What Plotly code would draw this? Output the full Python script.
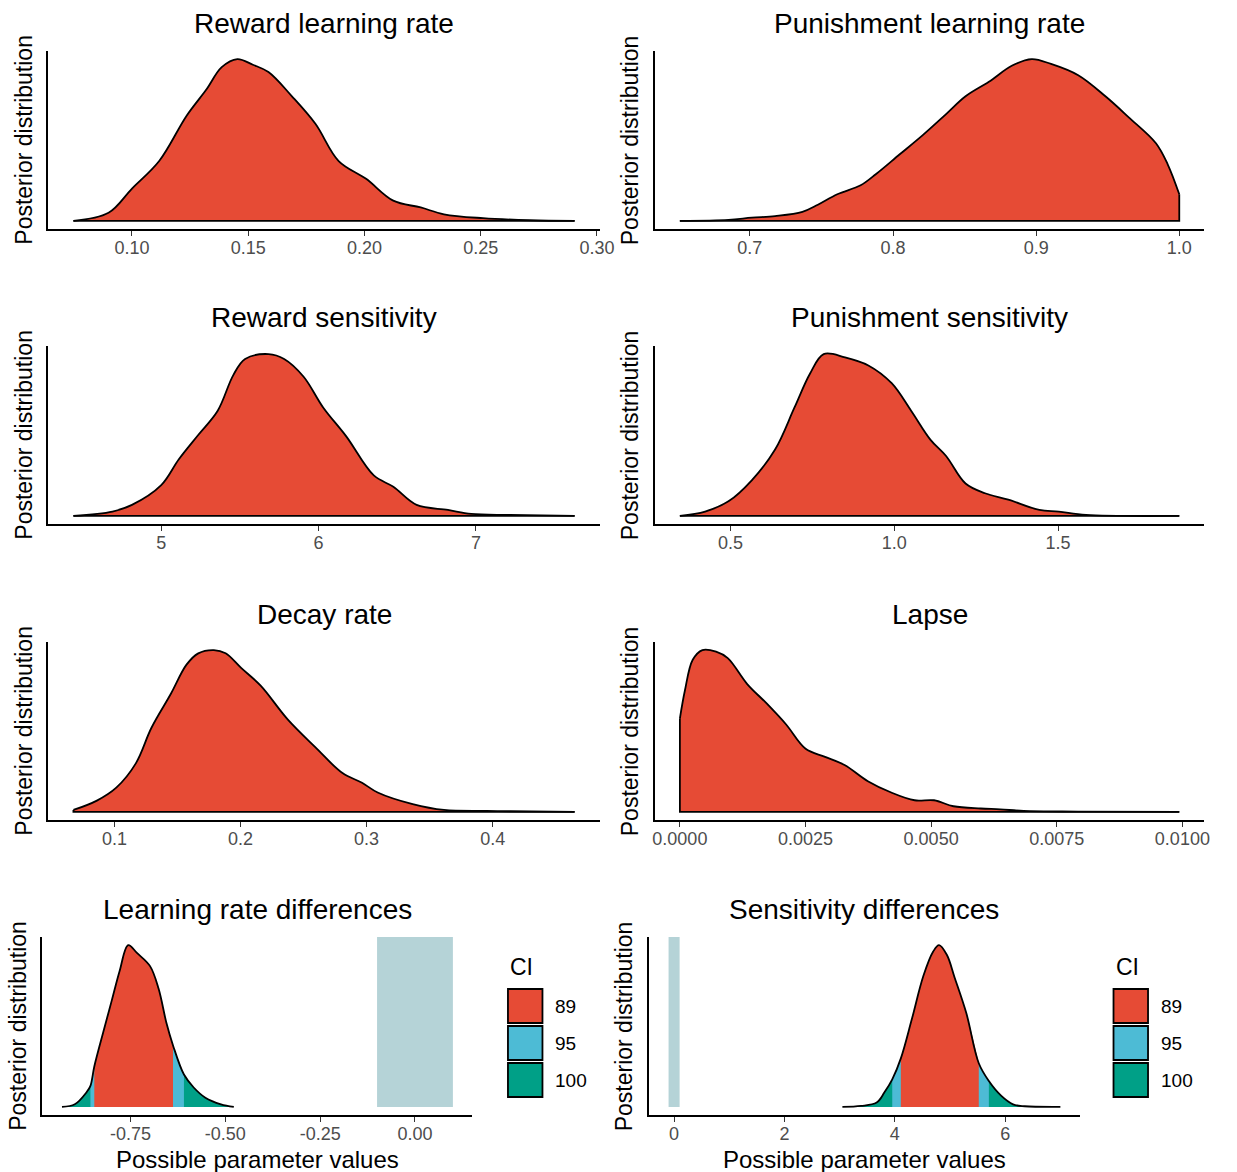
import plotly.graph_objects as go

W, H = 1237, 1172
FONT = "Liberation Sans, Arial, Helvetica, sans-serif"

# ---------------- data ----------------
reward_lr_x = [0.0748, 0.0899, 0.1000, 0.1117, 0.1235, 0.1319, 0.1386, 0.1453, 0.1520, 0.1587,
               0.1688, 0.1789, 0.1889, 0.2007, 0.2124, 0.2242, 0.2342, 0.2510, 0.2711, 0.2904]
reward_lr_y = [0.0, 0.05, 0.20, 0.37, 0.65, 0.81, 0.95, 1.0, 0.965, 0.92,
               0.77, 0.60, 0.37, 0.26, 0.125, 0.083, 0.041, 0.017, 0.004, 0.0]

punish_lr_x = [0.6511, 0.6851, 0.7014, 0.7176, 0.7367, 0.7475, 0.7611, 0.7774, 0.7882, 0.8045,
               0.8208, 0.8371, 0.8507, 0.8670, 0.8833, 0.8969, 0.9104, 0.9294, 0.9484, 0.9647,
               0.9837, 0.9919, 1.0]
punish_lr_y = [0.0, 0.006, 0.02, 0.03, 0.056, 0.10, 0.165, 0.22, 0.29, 0.41,
               0.53, 0.66, 0.77, 0.86, 0.96, 1.0, 0.97, 0.90, 0.77, 0.64,
               0.48, 0.35, 0.165]

reward_sens_x = [4.442, 4.690, 4.814, 5.000, 5.112, 5.235, 5.359, 5.458, 5.533, 5.682,
                 5.781, 5.905, 6.029, 6.177, 6.351, 6.475, 6.623, 6.822, 6.970, 7.218, 7.627]
reward_sens_y = [0.0, 0.027, 0.068, 0.19, 0.35, 0.50, 0.65, 0.87, 0.97, 1.0,
                 0.97, 0.86, 0.67, 0.49, 0.25, 0.18, 0.068, 0.037, 0.012, 0.006, 0.0]

punish_sens_x = [0.3458, 0.4229, 0.4941, 0.5652, 0.6364, 0.6957, 0.7432, 0.7847, 0.8499, 0.9211,
                 0.9923, 1.0516, 1.1109, 1.1584, 1.2177, 1.2770, 1.3482, 1.4431, 1.5024, 1.5854, 1.8701]
punish_sens_y = [0.0, 0.027, 0.09, 0.22, 0.41, 0.67, 0.88, 1.0, 0.98, 0.93,
                 0.82, 0.65, 0.47, 0.37, 0.20, 0.14, 0.10, 0.037, 0.027, 0.006, 0.0]

decay_x = [0.0675, 0.0861, 0.1015, 0.1170, 0.1294, 0.1448, 0.1572, 0.1665, 0.1789, 0.1882,
           0.2005, 0.2160, 0.2376, 0.2593, 0.2809, 0.2964, 0.3088, 0.3366, 0.3614, 0.3954,
           0.4140, 0.4650]
decay_y = [0.012, 0.07, 0.15, 0.30, 0.52, 0.73, 0.91, 0.98, 1.0, 0.98,
           0.89, 0.78, 0.57, 0.40, 0.24, 0.18, 0.12, 0.048, 0.012, 0.006,
           0.004, 0.0]

lapse_x = [0.0, 0.0001, 0.000256, 0.000449, 0.00072, 0.000953, 0.00134, 0.001727, 0.002115, 0.002502,
           0.002889, 0.003277, 0.003741, 0.004206, 0.004671, 0.005058, 0.005445, 0.005988, 0.006375,
           0.00684, 0.007924, 0.009938]
lapse_y = [0.577, 0.75, 0.94, 1.0, 0.99, 0.95, 0.79, 0.67, 0.54, 0.39,
           0.34, 0.29, 0.19, 0.12, 0.072, 0.072, 0.035, 0.021, 0.016,
           0.006, 0.002, 0.0]

lr_diff_x = [-0.9308, -0.8969, -0.8661, -0.8558, -0.8456, -0.8199, -0.7993, -0.7788, -0.7562, -0.7325,
             -0.6986, -0.6760, -0.6555, -0.6380, -0.6092, -0.5835, -0.5527, -0.5116, -0.4777]
lr_diff_y = [0.0, 0.016, 0.09, 0.13, 0.25, 0.48, 0.66, 0.84, 1.0, 0.95,
             0.87, 0.73, 0.52, 0.38, 0.20, 0.12, 0.057, 0.016, 0.0]
lr_ci89 = [-0.8456, -0.6380]
lr_ci95 = [-0.8558, -0.6092]
lr_rope = [-0.1, 0.1]

sens_diff_x = [3.050, 3.389, 3.671, 3.812, 3.953, 4.109, 4.306, 4.518, 4.695, 4.801,
               4.942, 5.083, 5.295, 5.521, 5.704, 5.930, 6.142, 6.354, 7.000]
sens_diff_y = [0.0, 0.006, 0.027, 0.09, 0.17, 0.30, 0.54, 0.81, 0.96, 1.0,
               0.94, 0.80, 0.58, 0.27, 0.16, 0.068, 0.016, 0.004, 0.0]
sens_ci89 = [4.109, 5.521]
sens_ci95 = [3.953, 5.704]
sens_rope = [-0.1, 0.1]

titles = ["Reward learning rate", "Punishment learning rate",
          "Reward sensitivity", "Punishment sensitivity",
          "Decay rate", "Lapse",
          "Learning rate differences", "Sensitivity differences"]

tick_vals = [[0.10, 0.15, 0.20, 0.25, 0.30], [0.7, 0.8, 0.9, 1.0],
             [5, 6, 7], [0.5, 1.0, 1.5],
             [0.1, 0.2, 0.3, 0.4], [0.0, 0.0025, 0.005, 0.0075, 0.01],
             [-0.75, -0.5, -0.25, 0.0], [0, 2, 4, 6]]
tick_text = [["0.10", "0.15", "0.20", "0.25", "0.30"], ["0.7", "0.8", "0.9", "1.0"],
             ["5", "6", "7"], ["0.5", "1.0", "1.5"],
             ["0.1", "0.2", "0.3", "0.4"], ["0.0000", "0.0025", "0.0050", "0.0075", "0.0100"],
             ["-0.75", "-0.50", "-0.25", "0.00"], ["0", "2", "4", "6"]]

ci_levels = ["89", "95", "100"]
ci_colors = ["#E64B35", "#4DBBD5", "#00A087"]
RED = "#E64B35"
ROPE = "#B5D3D7"
y_title = "Posterior distribution"
x_title = "Possible parameter values"

# ---------------- layout geometry (px) ----------------
col_x = [(47, 606), (662, 1219)]
row4_x = [(41, 477), (656, 1093)]
row_y = [(51, 229), (346, 524), (642, 820), (937, 1115)]
SMOOTH = 1.0


def xd(a, b):
    return [a / W, b / W]


def yd(top, bottom):
    return [1 - bottom / H, 1 - top / H]


fig = go.Figure()
annotations = []
shapes = []


def ax_names(k):
    return ("x" if k == 1 else f"x{k}"), ("y" if k == 1 else f"y{k}")


def expand(lo, hi, f=0.05):
    d = hi - lo
    return [lo - f * d, hi + f * d]


def add_density(k, xs, ys):
    xa, ya = ax_names(k)
    fig.add_trace(go.Scatter(x=xs, y=ys, mode="lines", fill="tozeroy", fillcolor=RED,
                             line=dict(color="black", width=1.8, shape="spline", smoothing=SMOOTH),
                             xaxis=xa, yaxis=ya, hoverinfo="skip", showlegend=False))
    fig.add_trace(go.Scatter(x=[xs[-1], xs[-1], xs[0], xs[0]], y=[ys[-1], 0, 0, ys[0]],
                             mode="lines", line=dict(color="black", width=1.8),
                             xaxis=xa, yaxis=ya, hoverinfo="skip", showlegend=False))


def add_ci_density(k, xs, ys, ci89, ci95, rope):
    xa, ya = ax_names(k)
    ytop = 1.05 * max(ys)
    fig.add_trace(go.Scatter(x=[rope[0], rope[1], rope[1], rope[0], rope[0]],
                             y=[0, 0, ytop, ytop, 0], mode="lines", fill="toself",
                             fillcolor=ROPE, line=dict(width=0, color=ROPE),
                             xaxis=xa, yaxis=ya, hoverinfo="skip", showlegend=False))
    segs = [(None, ci_colors[2]), (ci95, ci_colors[1]), (ci89, ci_colors[0])]
    for lim, col in segs:
        if lim is None:
            sx, sy = xs, ys
        else:
            sx = [x for x in xs if lim[0] <= x <= lim[1]]
            sy = [y for x, y in zip(xs, ys) if lim[0] <= x <= lim[1]]
        fig.add_trace(go.Scatter(x=sx, y=sy, mode="lines", fill="tozeroy", fillcolor=col,
                                 line=dict(color=col, width=0, shape="spline", smoothing=SMOOTH),
                                 xaxis=xa, yaxis=ya, hoverinfo="skip", showlegend=False))
    fig.add_trace(go.Scatter(x=xs, y=ys, mode="lines",
                             line=dict(color="black", width=1.8, shape="spline", smoothing=SMOOTH),
                             xaxis=xa, yaxis=ya, hoverinfo="skip", showlegend=False))


series = [(reward_lr_x, reward_lr_y), (punish_lr_x, punish_lr_y),
          (reward_sens_x, reward_sens_y), (punish_sens_x, punish_sens_y),
          (decay_x, decay_y), (lapse_x, lapse_y)]

for i, (xs, ys) in enumerate(series):
    add_density(i + 1, xs, ys)
add_ci_density(7, lr_diff_x, lr_diff_y, lr_ci89, lr_ci95, lr_rope)
add_ci_density(8, sens_diff_x, sens_diff_y, sens_ci89, sens_ci95, sens_rope)

layout_axes = {}
all_x = [s[0] for s in series] + [lr_diff_x + lr_rope, sens_diff_x + sens_rope]
all_y = [s[1] for s in series] + [lr_diff_y, sens_diff_y]
for k in range(1, 9):
    r = (k - 1) // 2
    c = (k - 1) % 2
    x0, x1 = (row4_x if r == 3 else col_x)[c]
    top, bot = row_y[r]
    xs = all_x[k - 1]
    ys = all_y[k - 1]
    xkey = "xaxis" if k == 1 else f"xaxis{k}"
    ykey = "yaxis" if k == 1 else f"yaxis{k}"
    xa, ya = ax_names(k)
    layout_axes[xkey] = dict(domain=xd(x0, x1), anchor=ya, range=expand(min(xs), max(xs)),
                             showline=True, linecolor="black", linewidth=1.8,
                             ticks="outside", ticklen=5, tickwidth=1.4, tickcolor="#333333",
                             ticklabelstandoff=-4,
                             tickvals=tick_vals[k - 1], ticktext=tick_text[k - 1],
                             tickfont=dict(family=FONT, size=18, color="#4D4D4D"),
                             showgrid=False, zeroline=False, fixedrange=True)
    layout_axes[ykey] = dict(domain=yd(top, bot), anchor=xa,
                             range=[-0.05 * max(ys), 1.05 * max(ys)],
                             showline=True, linecolor="black", linewidth=1.8,
                             ticks="", showticklabels=False, showgrid=False, zeroline=False,
                             fixedrange=True)
    # panel title
    annotations.append(dict(text=titles[k - 1], x=(x0 + x1) / 2 / W, y=1 - (top - 28) / H,
                            xref="paper", yref="paper", xanchor="center", yanchor="middle",
                            showarrow=False, font=dict(family=FONT, size=28, color="black")))
    # y title
    annotations.append(dict(text=y_title, x=(x0 - 25) / W, y=1 - (top + bot) / 2 / H,
                            xref="paper", yref="paper", xanchor="center", yanchor="middle",
                            textangle=-90, showarrow=False,
                            font=dict(family=FONT, size=23, color="black")))
    if r == 3:
        annotations.append(dict(text=x_title, x=(x0 + x1) / 2 / W, y=1 - 1159 / H,
                                xref="paper", yref="paper", xanchor="center", yanchor="middle",
                                showarrow=False, font=dict(family=FONT, size=24, color="black")))

# legends for the CI panels
for lx in (513, 1127):
    annotations.append(dict(text="CI", x=lx / W, y=1 - 967 / H, xref="paper", yref="paper",
                            xanchor="left", yanchor="middle", showarrow=False,
                            font=dict(family=FONT, size=23, color="black")))
    box_tops = [989, 1026, 1063]
    for lvl, col, bt in zip(ci_levels, ci_colors, box_tops):
        shapes.append(dict(type="rect", xref="paper", yref="paper",
                           x0=lx / W, x1=(lx + 35) / W, y0=1 - (bt + 34) / H, y1=1 - bt / H,
                           fillcolor=col, line=dict(color="black", width=1.8)))
        annotations.append(dict(text=lvl, x=(lx + 46) / W, y=1 - (bt + 17) / H,
                                xref="paper", yref="paper", xanchor="left", yanchor="middle",
                                showarrow=False, font=dict(family=FONT, size=19, color="black")))

fig.update_layout(width=W, height=H, margin=dict(l=0, r=0, t=0, b=0), autosize=False,
                  paper_bgcolor="white", plot_bgcolor="white", showlegend=False,
                  annotations=annotations, shapes=shapes, **layout_axes)

post_js = ("document.documentElement.style.margin='0';document.documentElement.style.overflow='hidden';"
           "document.body.style.margin='0';document.body.style.padding='0';"
           "document.body.style.overflow='hidden';")

fig.write_html("out.html",
               config={"responsive": False, "displayModeBar": False},
               post_script=post_js)
